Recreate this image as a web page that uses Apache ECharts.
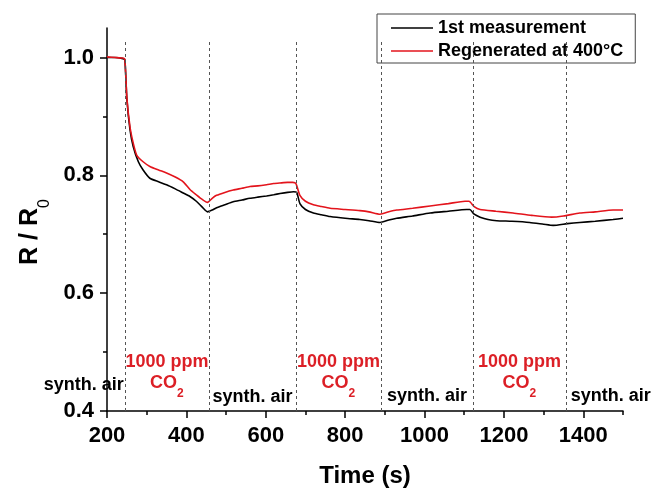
<!DOCTYPE html>
<html>
<head>
<meta charset="utf-8">
<script src="https://cdn.jsdelivr.net/npm/echarts@6/dist/echarts.min.js"></script>
<style>
  html, body { margin: 0; padding: 0; background: #fff; }
  #chart { width: 654px; height: 493px; }
</style>
</head>
<body>
<div id="chart"></div>
<script>
// Normalised resistance R/R0 versus time for two runs of the sensor
const seriesNames = ['1st measurement', 'Regenerated at 400°C'];

const timeFirst = [200, 220, 240, 245, 250, 258, 266, 279, 291, 308, 330, 350, 372, 392, 409, 425, 440, 453,
  465, 476, 497, 518, 540, 560, 580, 602, 620, 636, 655, 670, 678, 686, 700, 720, 740, 762, 800, 837, 860, 888,
  910, 930, 970, 1014, 1060, 1106, 1114, 1125, 1140, 1160, 1182, 1220, 1265, 1300, 1324, 1360, 1391, 1430, 1475, 1500];
const ratioFirst = [1.000, 1.000, 0.998, 0.996, 0.930, 0.877, 0.849, 0.823, 0.809, 0.795, 0.789, 0.784, 0.777, 0.770, 0.764, 0.756, 0.746, 0.738,
  0.741, 0.745, 0.750, 0.755, 0.758, 0.761, 0.763, 0.765, 0.767, 0.769, 0.771, 0.772, 0.771, 0.752, 0.742, 0.736, 0.733, 0.730, 0.727, 0.725, 0.723, 0.720,
  0.724, 0.727, 0.731, 0.736, 0.739, 0.742, 0.742, 0.734, 0.729, 0.725, 0.723, 0.722, 0.720, 0.717, 0.715, 0.718, 0.720, 0.722, 0.725, 0.727];

const timeRegen = [200, 220, 240, 245, 250, 258, 266, 275, 291, 308, 330, 350, 372, 392, 409, 425, 440, 453,
  465, 476, 497, 518, 540, 560, 580, 602, 620, 636, 655, 668, 676, 686, 700, 720, 740, 762, 800, 837, 860, 888,
  910, 930, 970, 1014, 1060, 1102, 1112, 1125, 1140, 1180, 1223, 1270, 1320, 1350, 1391, 1430, 1475, 1500];
const ratioRegen = [1.001, 1.000, 0.999, 0.997, 0.932, 0.882, 0.855, 0.834, 0.823, 0.815, 0.809, 0.804, 0.797, 0.789, 0.776, 0.767, 0.759, 0.754,
  0.761, 0.766, 0.771, 0.775, 0.778, 0.781, 0.782, 0.784, 0.786, 0.787, 0.788, 0.788, 0.786, 0.766, 0.756, 0.750, 0.747, 0.744, 0.742, 0.740, 0.738, 0.734,
  0.738, 0.741, 0.744, 0.748, 0.752, 0.756, 0.756, 0.747, 0.742, 0.739, 0.736, 0.732, 0.729, 0.731, 0.736, 0.738, 0.741, 0.741];

// Gas switching instants (s): air -> CO2 -> air -> ...
const switchTimes = [245, 457, 676, 890, 1122, 1356];

const xTicks = [200, 400, 600, 800, 1000, 1200, 1400];
const xMinorTicks = [300, 500, 700, 900, 1100, 1300, 1500];
const yTicks = [0.4, 0.6, 0.8, 1.0];
const yMinorTicks = [0.5, 0.7, 0.9];

const FONT = '"Liberation Sans", Arial, Helvetica, sans-serif';
const RED = '#e3141c';
const TEXT_RED = '#dc1f26';

const zip = (xs, ys) => xs.map((x, i) => [x, ys[i]]);

// Phase annotations, anchored in data coordinates
const mid = (a, b) => (a + b) / 2;
const annotations = [
  { t: switchTimes[0], v: 0.4438, kind: 'air', align: 'right', dx: -1 },
  { t: mid(switchTimes[1], switchTimes[2]), v: 0.4234, kind: 'air', align: 'center', dx: 0 },
  { t: mid(switchTimes[3], switchTimes[4]), v: 0.4250, kind: 'air', align: 'center', dx: 0 },
  { t: switchTimes[5], v: 0.4250, kind: 'air', align: 'left', dx: 5 }
];
[[0, 1], [2, 3], [4, 5]].forEach(([a, b]) => {
  const t = mid(switchTimes[a], switchTimes[b]);
  annotations.push({ t, v: 0.4829, kind: 'ppm', align: 'center', dx: 0 });
  annotations.push({ t, v: 0.4472, kind: 'co2', align: 'center', dx: 0 });
});

function renderAnnotation(params, api) {
  const a = annotations[params.dataIndex];
  const p = api.coord([api.value(0), api.value(1)]);
  const base = { x: p[0] + a.dx, y: p[1], align: a.align, verticalAlign: 'middle',
    fontFamily: FONT, fontWeight: 'bold', fontSize: 18 };
  if (a.kind === 'air') {
    return { type: 'text', style: { ...base, text: 'synth. air', fill: '#000' } };
  }
  if (a.kind === 'ppm') {
    return { type: 'text', style: { ...base, text: '1000 ppm', fill: TEXT_RED } };
  }
  return { type: 'text', style: { ...base, text: '{co|CO}{sub|2}',
    rich: {
      co: { fill: TEXT_RED, fontSize: 18, fontWeight: 'bold', fontFamily: FONT, lineHeight: 20 },
      sub: { fill: TEXT_RED, fontSize: 12, fontWeight: 'bold', fontFamily: FONT, lineHeight: 12, padding: [20, 0, 0, 0] }
    } } };
}

const axisLineStyle = { color: '#000', width: 1.5 };
const tickLabel = { color: '#000', fontSize: 22, fontWeight: 'bold', fontFamily: FONT };

const chart = echarts.init(document.getElementById('chart'), null, { renderer: 'canvas' });
chart.setOption({
  animation: false,
  backgroundColor: '#fff',
  grid: { left: 107, right: 31, top: 28, bottom: 82, containLabel: false },
  legend: {
    data: seriesNames,
    orient: 'vertical',
    left: 377,
    top: 14,
    padding: [5, 12, 3, 14],
    itemGap: 5,
    itemWidth: 42,
    itemHeight: 1.5,
    icon: 'rect',
    borderColor: '#444',
    borderWidth: 1,
    selectedMode: false,
    textStyle: { color: '#000', fontSize: 18, fontWeight: 'bold', fontFamily: FONT, lineHeight: 18 }
  },
  xAxis: [
    {
      type: 'value', min: 200, max: 1500,
      axisLine: { lineStyle: axisLineStyle },
      axisTick: { customValues: xTicks, length: 7, lineStyle: axisLineStyle },
      axisLabel: { customValues: xTicks, margin: 14, formatter: v => String(v), ...tickLabel },
      splitLine: { show: false },
      name: 'Time (s)', nameLocation: 'middle', nameGap: 53,
      nameTextStyle: { color: '#000', fontSize: 24, fontWeight: 'bold', fontFamily: FONT }
    },
    {
      type: 'value', min: 200, max: 1500, position: 'bottom', offset: 0,
      axisLine: { show: false },
      axisTick: { customValues: xMinorTicks, length: 4, lineStyle: axisLineStyle },
      axisLabel: { show: false },
      splitLine: { show: false }
    }
  ],
  yAxis: [
    {
      type: 'value', min: 0.4, max: 1.05,
      axisLine: { show: true, lineStyle: axisLineStyle },
      axisTick: { show: true, customValues: yTicks, length: 7, lineStyle: axisLineStyle },
      axisLabel: { customValues: yTicks, margin: 13, formatter: v => v.toFixed(1), ...tickLabel },
      splitLine: { show: false },
      name: '{main|R / R}{sub|0}', nameLocation: 'middle', nameRotate: 90, nameGap: 60,
      nameTextStyle: {
        rich: {
          main: { color: '#000', fontSize: 25, fontWeight: 'bold', fontFamily: FONT, lineHeight: 28 },
          sub: { color: '#000', fontSize: 16, fontFamily: FONT, lineHeight: 16, padding: [28, 25, 0, 0] }
        }
      }
    },
    {
      type: 'value', min: 0.4, max: 1.05, position: 'left', offset: 0,
      axisLine: { show: false },
      axisTick: { show: true, customValues: yMinorTicks, length: 4, lineStyle: axisLineStyle },
      axisLabel: { show: false },
      splitLine: { show: false }
    }
  ],
  series: [
    {
      name: seriesNames[0], type: 'line', xAxisIndex: 0, yAxisIndex: 0,
      data: zip(timeFirst, ratioFirst), showSymbol: false, symbol: 'none', smooth: 0.2,
      lineStyle: { color: '#000', width: 1.6 }, itemStyle: { color: '#000' }, z: 3,
      markLine: {
        silent: true, symbol: 'none', animation: false,
        label: { show: false },
        lineStyle: { color: '#555', width: 1, type: [3, 3] },
        data: switchTimes.map(t => [{ coord: [t, 0.4] }, { coord: [t, 1.03] }])
      }
    },
    {
      name: seriesNames[1], type: 'line', xAxisIndex: 0, yAxisIndex: 0,
      data: zip(timeRegen, ratioRegen), showSymbol: false, symbol: 'none', smooth: 0.2,
      lineStyle: { color: RED, width: 1.6 }, itemStyle: { color: RED }, z: 4
    },
    {
      name: 'phases', type: 'custom', xAxisIndex: 0, yAxisIndex: 0,
      silent: true, clip: false,
      renderItem: renderAnnotation,
      data: annotations.map(a => [a.t, a.v]),
      z: 5
    }
  ]
});
</script>
</body>
</html>
